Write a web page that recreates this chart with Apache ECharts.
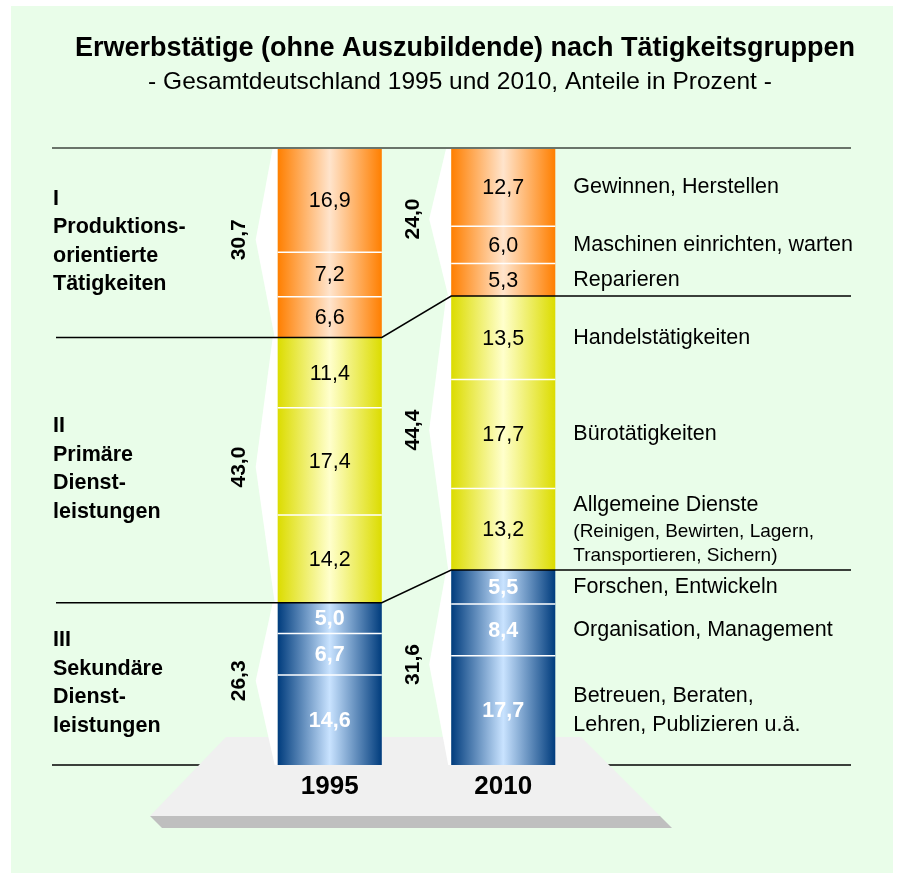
<!DOCTYPE html>
<html><head><meta charset="utf-8">
<script src="https://cdn.jsdelivr.net/npm/echarts@6/dist/echarts.min.js"></script>
<style>html,body{margin:0;padding:0;background:#fff}#c{width:902px;height:874px}</style>
</head><body><div id="c"></div>
<script>
// ---------- data ----------
const years = ['1995', '2010'];
const activities = [
  'Gewinnen, Herstellen',
  'Maschinen einrichten, warten',
  'Reparieren',
  'Handelstätigkeiten',
  'Bürotätigkeiten',
  'Allgemeine Dienste',
  'Forschen, Entwickeln',
  'Organisation, Management',
  'Betreuen, Beraten,\nLehren, Publizieren u.ä.'
];
const activityNotes = ['', '', '', '', '', '(Reinigen, Bewirten, Lagern,\nTransportieren, Sichern)', '', '', ''];
const activityGroup = [0, 0, 0, 1, 1, 1, 2, 2, 2];
const shares1995 = [16.9, 7.2, 6.6, 11.4, 17.4, 14.2, 5.0, 6.7, 14.6];
const shares2010 = [12.7, 6.0, 5.3, 13.5, 17.7, 13.2, 5.5, 8.4, 17.7];
const groupNames = [
  'I\nProduktions-\norientierte\nTätigkeiten',
  'II\nPrimäre\nDienst-\nleistungen',
  'III\nSekundäre\nDienst-\nleistungen'
];
const groupTotals1995 = [30.7, 43.0, 26.3];
const groupTotals2010 = [24.0, 44.4, 31.6];
const titleText = 'Erwerbstätige (ohne Auszubildende) nach Tätigkeitsgruppen';
const subtitleText = '- Gesamtdeutschland 1995 und 2010, Anteile in Prozent -';

// ---------- helpers ----------
const FONT = '"Liberation Sans", Arial, Helvetica, sans-serif';
const fmt = v => v.toFixed(1).replace('.', ',');
const BAR_RATIO = 0.6;
const groupGradients = [
  ['#FF7F00', '#FFE4CC'],
  ['#DCDC00', '#FFFFCC'],
  ['#003C7D', '#C9E3FF']
];
function grad(g) {
  const c = groupGradients[g];
  return new echarts.graphic.LinearGradient(0, 0, 1, 0, [
    { offset: 0, color: c[0] }, { offset: 0.5, color: c[1] }, { offset: 1, color: c[0] }
  ]);
}

const shareSets = [shares1995, shares2010];
const totalSets = [groupTotals1995, groupTotals2010];

const segData = [];
shareSets.forEach((arr, i) => {
  let acc = 0;
  arr.forEach((v, j) => { segData.push([i, acc, acc + v, v, j]); acc += v; });
});

const groupData = [];
const boundaryData = [[0, 0, 0, 0]];
{
  let a0 = 0, a1 = 0;
  groupTotals1995.forEach((t0, g) => {
    const t1 = groupTotals2010[g];
    groupData.push([0, a0, a0 + t0, a1, a1 + t1, g]);
    a0 += t0; a1 += t1;
    boundaryData.push([0, a0, a1, g + 1]);
  });
}
const innerBoundaries = boundaryData.slice(0, boundaryData.length - 1);
const bottomBoundary = boundaryData.slice(boundaryData.length - 1);

function renderBar(params, api) {
  const i = api.value(0), y0 = api.value(1), y1 = api.value(2), v = api.value(3), j = api.value(4);
  const g = activityGroup[j];
  const p0 = api.coord([i, y0]), p1 = api.coord([i, y1]);
  const w = api.size([1, 0])[0] * BAR_RATIO;
  const x = p0[0] - w / 2;
  const mid = (p0[1] + p1[1]) / 2;
  const children = [{
    type: 'rect', shape: { x: x, y: p0[1], width: w, height: p1[1] - p0[1] },
    style: { fill: grad(g) }
  }];
  if (j > 0 && activityGroup[j - 1] === g) {
    children.push({ type: 'line', shape: { x1: x, y1: p0[1], x2: x + w, y2: p0[1] },
      style: { stroke: '#ffffff', lineWidth: 1.5 } });
  }
  children.push({
    type: 'text', x: p0[0], y: mid + 1,
    style: { text: fmt(v), align: 'center', verticalAlign: 'middle',
      fill: g === 2 ? '#ffffff' : '#000000', fontSize: 21.5,
      fontWeight: g === 2 ? 'bold' : 'normal', fontFamily: FONT }
  });
  if (i === 1) {
    const name = activities[j];
    const note = activityNotes[j];
    let txt = name.split('\n').map(s => '{a|' + s + '}').join('\n');
    if (note) txt += '\n' + note.split('\n').map(s => '{b|' + s + '}').join('\n');
    children.push({
      type: 'text', x: x + w + 18, y: mid,
      style: {
        text: txt, align: 'left', verticalAlign: 'middle', fill: '#000',
        rich: {
          a: { fontSize: 21.5, fontFamily: FONT, lineHeight: 29, fill: '#000' },
          b: { fontSize: 19, fontFamily: FONT, lineHeight: 24, fill: '#000' }
        }
      }
    });
  }
  return { type: 'group', children: children };
}

function renderGroup(params, api) {
  const g = api.value(5);
  const w = api.size([1, 0])[0] * BAR_RATIO;
  const children = [];
  for (let i = 0; i < 2; i++) {
    const s = api.value(1 + 2 * i), e = api.value(2 + 2 * i);
    const pt = api.coord([i, s]), pb = api.coord([i, e]);
    const L = pt[0] - w / 2;
    const mid = (pt[1] + pb[1]) / 2 - 3;
    children.push({
      type: 'polygon',
      shape: { points: [[L, pt[1]], [L - 5, pt[1]], [L - 22, mid], [L - 3, pb[1]], [L, pb[1]]] },
      style: { fill: '#ffffff' }
    });
    children.push({
      type: 'text', x: L - 38, y: mid, rotation: Math.PI / 2,
      style: { text: fmt(totalSets[i][g]), align: 'center', verticalAlign: 'middle',
        fill: '#000', fontSize: 21, fontWeight: 'bold', fontFamily: FONT }
    });
    if (i === 0) {
      children.push({
        type: 'text', x: 53, y: mid + 2,
        style: { text: groupNames[g], align: 'left', verticalAlign: 'middle',
          fill: '#000', fontSize: 21.5, fontWeight: 'bold', fontFamily: FONT, lineHeight: 28.5 }
      });
    }
  }
  return { type: 'group', children: children };
}

function renderBoundary(params, api) {
  const k = api.value(3);
  const w = api.size([1, 0])[0] * BAR_RATIO;
  const pA = api.coord([0, api.value(1)]), pB = api.coord([1, api.value(2)]);
  const first = k === 0;
  const last = k === groupTotals1995.length;
  const xs = (first || last) ? 52 : 56;
  return {
    type: 'polyline',
    shape: { points: [[xs, pA[1]], [pA[0] + w / 2, pA[1]], [pB[0] - w / 2, pB[1]], [851, pB[1]]] },
    style: { stroke: first ? '#6A746A' : '#000000', lineWidth: first ? 2 : 1.5, fill: null }
  };
}

const chart = echarts.init(document.getElementById('c'), null, { renderer: 'canvas' });
chart.setOption({
  backgroundColor: '#ffffff',
  animation: false,
  title: [
    { text: titleText, left: 460, top: 30, textAlign: 'center',
      textStyle: { fontSize: 27, fontWeight: 'bold', color: '#000', fontFamily: FONT } },
    { text: subtitleText, left: 455, top: 65, textAlign: 'center',
      textStyle: { fontSize: 24.5, fontWeight: 'normal', color: '#000', fontFamily: FONT } }
  ],
  graphic: {
    elements: [
      { type: 'rect', z: -10, shape: { x: 11, y: 6, width: 882, height: 867 }, style: { fill: '#E9FDE9' } },
      { type: 'polygon', z: 1, shape: { points: [[150, 816], [660, 816], [672, 828], [162, 828]] }, style: { fill: '#BFBFBF' } },
      { type: 'polygon', z: 1, shape: { points: [[226, 737], [581, 737], [660, 816], [150, 816]] }, style: { fill: '#F0F0F0' } }
    ]
  },
  grid: { left: 243, width: 347, top: 148, bottom: 109 },
  xAxis: {
    type: 'category', data: years, z: 5,
    axisLine: { show: false }, axisTick: { show: false }, splitLine: { show: false },
    axisLabel: { margin: 9, fontSize: 26, fontWeight: 'bold', color: '#000', fontFamily: FONT }
  },
  yAxis: { type: 'value', min: 0, max: 100, inverse: true, show: false },
  series: [
    { type: 'custom', name: 'bottom', z: 0, clip: false, renderItem: renderBoundary,
      data: bottomBoundary, encode: { x: 0, y: [1, 2] } },
    { type: 'custom', name: 'groups', z: 2, clip: false, renderItem: renderGroup,
      data: groupData, encode: { x: 0, y: [1, 2, 3, 4] } },
    { type: 'custom', name: 'segments', z: 2, clip: false, renderItem: renderBar,
      data: segData, encode: { x: 0, y: [1, 2] } },
    { type: 'custom', name: 'boundaries', z: 3, clip: false, renderItem: renderBoundary,
      data: innerBoundaries, encode: { x: 0, y: [1, 2] } }
  ]
});
</script></body></html>
